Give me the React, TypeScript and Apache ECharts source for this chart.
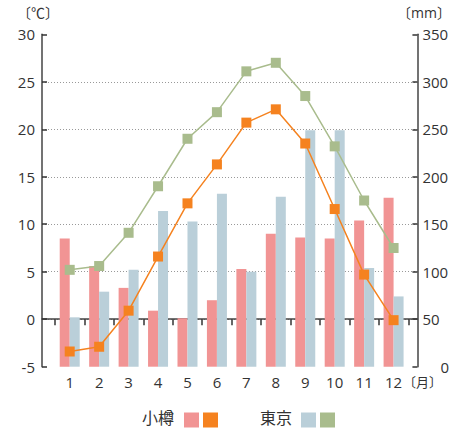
import React, { useEffect, useRef } from "react";
import * as echarts from "echarts";

const months = ["1", "2", "3", "4", "5", "6", "7", "8", "9", "10", "11", "12"];
const otaruPrecip = [135, 106, 83, 59, 51, 70, 103, 140, 136, 135, 154, 178];
const tokyoPrecip = [52, 79, 102, 164, 153, 182, 100, 179, 249, 249, 104, 74];
const otaruTemp = [-3.4, -2.9, 0.9, 6.6, 12.2, 16.3, 20.7, 22.1, 18.5, 11.6, 4.7, -0.1];
const tokyoTemp = [5.2, 5.6, 9.1, 14.0, 19.0, 21.8, 26.1, 27.0, 23.5, 18.2, 12.5, 7.5];
const cityNames = ["小樽", "東京"];
const unitLabels = ["〔℃〕", "〔mm〕", "〔月〕"];

const FONT = "'Open Sans', 'Noto Sans CJK JP', sans-serif";
const TXT = "#333";
const PINK = "#F19494";
const ORANGE = "#F5821F";
const BLUE = "#BACFD9";
const GREEN = "#A9BC8D";

export default function App() {
  const ref = useRef<HTMLDivElement>(null);
  useEffect(() => {
    const chart = echarts.init(ref.current!, null, { renderer: "svg" });
    const top = 34.3;
    const bottom = 432 - 366.7;
    chart.setOption({
      animation: false,
      textStyle: { fontFamily: FONT },
      grid: [
        { left: 55, right: 452 - 408.3, top, bottom },
        { left: 42, right: 452 - 419, top, bottom },
      ],
      xAxis: [
        {
          type: "category",
          gridIndex: 0,
          data: months,
          boundaryGap: true,
          axisLine: { show: false },
          axisTick: { show: true, length: 6, lineStyle: { color: TXT, width: 1.5 } },
          axisLabel: { color: TXT, fontSize: 15, margin: 8, fontFamily: FONT },
          splitLine: { show: false },
        },
        {
          type: "value",
          gridIndex: 1,
          min: 0,
          max: 1,
          axisLine: { show: true, lineStyle: { color: "#444", width: 1.5 } },
          axisTick: { show: false },
          axisLabel: { show: false },
          splitLine: { show: false },
        },
      ],
      yAxis: [
        { type: "value", gridIndex: 0, min: -5, max: 30, show: false },
        { type: "value", gridIndex: 0, min: 0, max: 350, show: false },
        {
          type: "value",
          gridIndex: 1,
          position: "left",
          min: -5,
          max: 30,
          interval: 5,
          axisLine: { show: true, lineStyle: { color: "#444", width: 1.5 } },
          axisTick: { show: true, inside: true, length: 5, lineStyle: { color: TXT, width: 1.5 } },
          axisLabel: { color: TXT, fontSize: 15, margin: 7, fontFamily: FONT },
          splitLine: {
            show: true,
            showMinLine: false,
            showMaxLine: false,
            lineStyle: { color: "#999", type: [1, 2], width: 1 },
          },
        },
        {
          type: "value",
          gridIndex: 1,
          position: "right",
          min: 0,
          max: 350,
          interval: 50,
          axisLine: { show: true, lineStyle: { color: "#444", width: 1.5 } },
          axisTick: { show: true, inside: true, length: 5, lineStyle: { color: TXT, width: 1.5 } },
          axisLabel: {
            color: TXT,
            fontSize: 15,
            margin: 5,
            fontFamily: FONT,
            formatter: (v: number) => (v === 0 ? "{z|0}" : String(v)),
            rich: { z: { color: TXT, fontSize: 15, fontFamily: FONT, padding: [0, 0, 0, 18] } },
          },
          splitLine: { show: false },
        },
      ],
      series: [
        {
          name: cityNames[0] + "降水量",
          type: "bar",
          xAxisIndex: 0,
          yAxisIndex: 1,
          data: otaruPrecip,
          barWidth: 10,
          barGap: "0%",
          itemStyle: { color: PINK },
          z: 2,
        },
        {
          name: cityNames[1] + "降水量",
          type: "bar",
          xAxisIndex: 0,
          yAxisIndex: 1,
          data: tokyoPrecip,
          barWidth: 10,
          barGap: "0%",
          itemStyle: { color: BLUE },
          z: 2,
        },
        {
          name: cityNames[1] + "気温",
          type: "line",
          xAxisIndex: 0,
          yAxisIndex: 0,
          data: tokyoTemp,
          symbol: "rect",
          symbolSize: 10,
          lineStyle: { color: GREEN, width: 1.5 },
          itemStyle: { color: GREEN },
          z: 3,
        },
        {
          name: cityNames[0] + "気温",
          type: "line",
          xAxisIndex: 0,
          yAxisIndex: 0,
          data: otaruTemp,
          symbol: "rect",
          symbolSize: 10,
          lineStyle: { color: ORANGE, width: 1.5 },
          itemStyle: { color: ORANGE },
          z: 4,
        },
      ],
      graphic: [
        { type: "text", left: 17, top: 5, style: { text: unitLabels[0], fontSize: 14, fill: TXT, fontFamily: FONT } },
        { type: "text", right: 1, top: 5, style: { text: unitLabels[1], fontSize: 14, fill: TXT, fontFamily: FONT } },
        { type: "text", left: 403, top: 375, style: { text: unitLabels[2], fontSize: 13, fill: TXT, fontFamily: FONT } },
        { type: "text", left: 142, top: 410, style: { text: cityNames[0], fontSize: 16, fill: TXT, fontFamily: FONT } },
        { type: "rect", shape: { x: 184, y: 412.5, width: 15, height: 15 }, style: { fill: PINK } },
        { type: "rect", shape: { x: 203, y: 412.5, width: 15, height: 15 }, style: { fill: ORANGE } },
        { type: "text", left: 260, top: 410, style: { text: cityNames[1], fontSize: 16, fill: TXT, fontFamily: FONT } },
        { type: "rect", shape: { x: 301, y: 412.5, width: 15, height: 15 }, style: { fill: BLUE } },
        { type: "rect", shape: { x: 320, y: 412.5, width: 15, height: 15 }, style: { fill: GREEN } },
      ],
    });
    return () => chart.dispose();
  }, []);
  return (
    <div
      ref={ref}
      style={{ position: "fixed", left: 0, top: 0, width: 452, height: 432, background: "#fff" }}
    />
  );
}
